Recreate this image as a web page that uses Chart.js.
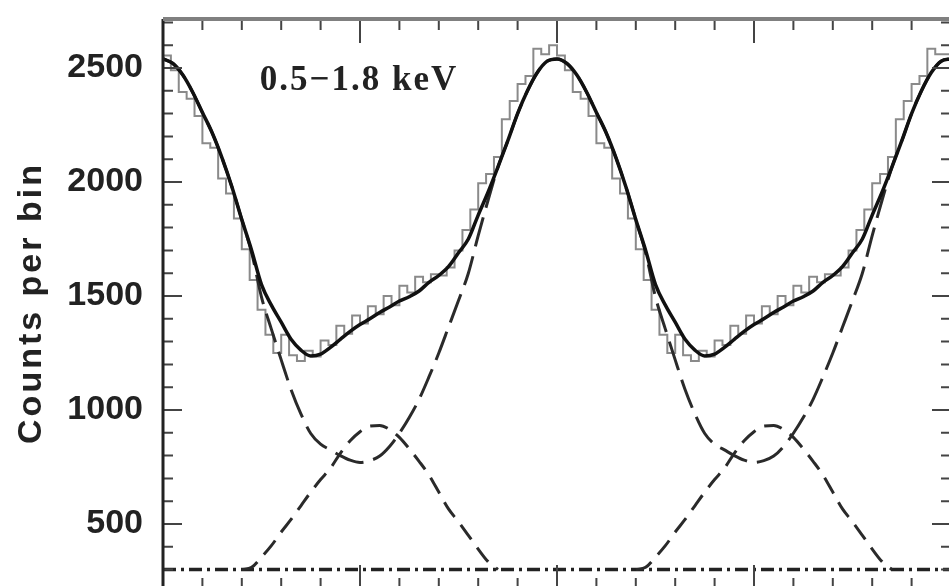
<!DOCTYPE html>
<html>
<head>
<meta charset="utf-8">
<script src="https://cdn.jsdelivr.net/npm/chart.js"></script>
<style>
    body { margin: 0; background: #ffffff; }
    #caixa { width: 949px; height: 586px; overflow: hidden; }
</style>
</head>
<body>
<div id="caixa"><canvas id="perfilChart" width="960" height="600"></canvas></div>
<script>
var faixaEnergia = "0.5\u22121.8 keV"
var tituloY = "Counts per bin"
var ticksY = [500, 1000, 1500, 2000, 2500]

// contagens observadas, 50 bins por ciclo (fase 0 a 1)
var larguraBin = 0.02
var contagens = [2600, 2555, 2490, 2395, 2365, 2290, 2170, 2150, 2015, 1950,
    1840, 1705, 1570, 1440, 1330, 1250, 1330, 1240, 1215, 1260,
    1235, 1305, 1285, 1370, 1335, 1415, 1380, 1455, 1420, 1500,
    1460, 1545, 1515, 1585, 1560, 1595, 1590, 1625, 1700, 1790,
    1880, 1995, 2035, 2110, 2275, 2355, 2430, 2465, 2585, 2560]

// modelo, passo de 0.025 em fase (41 pontos de 0 a 1)
var passoModelo = 0.025
var modeloTotal = [2540, 2520, 2470, 2395, 2305, 2215, 2105, 1978, 1835, 1700,
    1550, 1460, 1385, 1310, 1263, 1237, 1245, 1275, 1310, 1345,
    1375, 1400, 1428, 1452, 1478, 1497, 1522, 1560, 1590, 1630,
    1690, 1750, 1855, 1955, 2065, 2180, 2300, 2400, 2480, 2530, 2540]
var componentePulso = [2540, 2520, 2470, 2395, 2305, 2215, 2105, 1978, 1835, 1690,
    1495, 1355, 1220, 1090, 983, 897, 850, 825, 800, 780,
    770, 778, 798, 840, 898, 967, 1047, 1145, 1250, 1365,
    1480, 1600, 1765, 1920, 2065, 2180, 2300, 2400, 2480, 2530, 2540]
var componenteInterpulso = [null, null, null, null, null, null, null, null, 300, 310,
    355, 405, 465, 520, 580, 640, 695, 745, 810, 865,
    905, 930, 932, 915, 880, 830, 775, 715, 640, 565,
    510, 450, 390, 335, 300, null, null, null, null, null, null]
var fasesFundo = [0, 2]
var fundo = [300, 300]

var ciclos = 2

function pontosHistograma(valores, largura) {
    var pontos = []
    for (var c = 0; c < ciclos; c++) {
        for (var i = 0; i < valores.length; i++) {
            pontos.push({ x: c + i * largura, y: valores[i] })
        }
    }
    pontos.push({ x: ciclos, y: valores[valores.length - 1] })
    return pontos
}

function pontosModelo(valores, passo) {
    var pontos = []
    for (var c = 0; c < ciclos; c++) {
        for (var i = 0; i < valores.length - 1; i++) {
            pontos.push({ x: c + i * passo, y: valores[i] })
        }
    }
    pontos.push({ x: ciclos, y: valores[valores.length - 1] })
    return pontos
}

var molduraPlugin = {
    id: 'moldura',
    afterDatasetsDraw: function (chart) {
        var ctx = chart.ctx
        var area = chart.chartArea
        var escalaX = chart.scales.x
        var escalaY = chart.scales.y

        ctx.save()
        ctx.strokeStyle = '#444'
        ctx.lineWidth = 2

        for (var v = 300; v <= 2700; v += 100) {
            var y = escalaY.getPixelForValue(v)
            var tam = v % 500 == 0 ? 19 : 10
            ctx.beginPath()
            ctx.moveTo(area.left, y)
            ctx.lineTo(area.left + tam, y)
            ctx.moveTo(area.right, y)
            ctx.lineTo(area.right - tam, y)
            ctx.stroke()
        }

        for (var i = 0; i <= ciclos * 10; i++) {
            var x = escalaX.getPixelForValue(i / 10)
            var tamX = i % 5 == 0 ? 24 : 11
            ctx.beginPath()
            ctx.moveTo(x, area.top)
            ctx.lineTo(x, area.top + tamX)
            ctx.moveTo(x, area.bottom)
            ctx.lineTo(x, area.bottom - tamX)
            ctx.stroke()
        }

        ctx.strokeStyle = '#222'
        ctx.lineWidth = 3
        ctx.beginPath()
        ctx.moveTo(area.left, area.top)
        ctx.lineTo(area.left, area.bottom)
        ctx.moveTo(area.right, area.top)
        ctx.lineTo(area.right, area.bottom)
        ctx.moveTo(area.left, area.bottom)
        ctx.lineTo(area.right, area.bottom)
        ctx.stroke()

        ctx.strokeStyle = '#808080'
        ctx.lineWidth = 4
        ctx.beginPath()
        ctx.moveTo(area.left, area.top)
        ctx.lineTo(area.right, area.top)
        ctx.stroke()

        ctx.fillStyle = '#222'
        ctx.font = 'bold 35px "Liberation Serif"'
        ctx.letterSpacing = '2px'
        ctx.textAlign = 'center'
        ctx.textBaseline = 'alphabetic'
        ctx.fillText(faixaEnergia, 359, 90)

        ctx.translate(41, 303)
        ctx.rotate(-Math.PI / 2)
        ctx.font = 'bold 34px "Liberation Sans"'
        ctx.letterSpacing = '3px'
        ctx.fillText(tituloY, 0, 0)
        ctx.restore()
    }
}

var canvas = document.getElementById("perfilChart")

var perfilChart = new Chart(canvas, {
    type: 'line',
    data: {
        datasets: [{
            label: 'Modelo total',
            data: pontosModelo(modeloTotal, passoModelo),
            borderColor: '#111',
            borderWidth: 3.5,
            pointRadius: 0,
            cubicInterpolationMode: 'monotone',
            order: 0
        }, {
            label: 'Pulso',
            data: pontosModelo(componentePulso, passoModelo),
            borderColor: '#2a2a2a',
            borderWidth: 3,
            borderDash: [30, 10],
            pointRadius: 0,
            cubicInterpolationMode: 'monotone',
            order: 1
        }, {
            label: 'Interpulso',
            data: pontosModelo(componenteInterpulso, passoModelo),
            borderColor: '#2a2a2a',
            borderWidth: 3,
            borderDash: [18, 10],
            pointRadius: 0,
            spanGaps: false,
            cubicInterpolationMode: 'monotone',
            order: 2
        }, {
            label: 'Fundo',
            data: fasesFundo.map(function (f, i) { return { x: f, y: fundo[i] } }),
            borderColor: '#222',
            borderWidth: 3.5,
            borderDash: [13, 5, 3, 5],
            pointRadius: 0,
            order: 3
        }, {
            label: 'Dados',
            data: pontosHistograma(contagens, larguraBin),
            borderColor: '#8a8a8a',
            borderWidth: 2,
            stepped: 'after',
            pointRadius: 0,
            order: 4
        }]
    },
    options: {
        responsive: false,
        animation: false,
        devicePixelRatio: 1,
        layout: {
            padding: { top: 19, right: 9, bottom: 11, left: 0 }
        },
        plugins: {
            legend: { display: false },
            tooltip: { enabled: false }
        },
        scales: {
            x: {
                type: 'linear',
                min: 0,
                max: ciclos,
                display: false
            },
            y: {
                min: 215,
                max: 2715,
                grid: { display: false, drawTicks: false },
                border: { display: false },
                afterBuildTicks: function (escala) {
                    escala.ticks = ticksY.map(function (v) { return { value: v } })
                },
                afterFit: function (escala) {
                    escala.width = 163
                    escala.paddingTop = 0
                    escala.paddingBottom = 0
                },
                ticks: {
                    padding: 20,
                    color: '#222',
                    font: { family: 'Liberation Sans', size: 34, weight: 'bold' },
                    callback: function (valor) {
                        return String(valor)
                    }
                }
            }
        }
    },
    plugins: [molduraPlugin]
})
</script>
</body>
</html>
